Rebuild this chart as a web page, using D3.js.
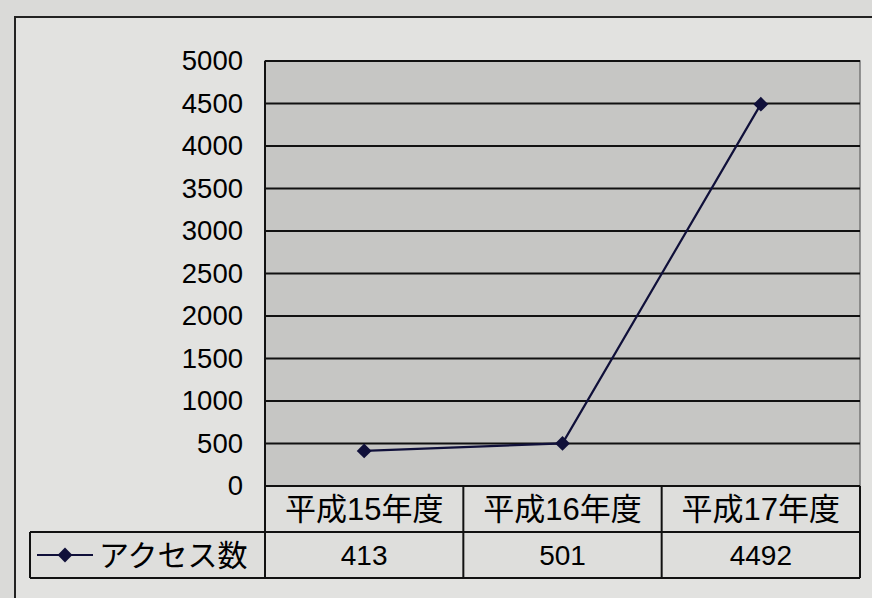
<!DOCTYPE html>
<html><head><meta charset="utf-8">
<script src="https://cdn.jsdelivr.net/npm/d3@7"></script>
<style>
html,body{margin:0;padding:0;background:#dadad8;}
svg{display:block;}
text{font-family:"Liberation Sans","Noto Sans CJK JP",sans-serif;fill:#000;}
</style></head>
<body>
<svg id="c" width="872" height="598"></svg>
<script>
const categories = ["平成15年度","平成16年度","平成17年度"];
const seriesName = "アクセス数";
const values = [413, 501, 4492];
const yTicks = [0,500,1000,1500,2000,2500,3000,3500,4000,4500,5000];

const W = 872, H = 598;
const plot = {left: 265, right: 860, top: 61, bottom: 486};
const rowH = 46;
const svg = d3.select("#c");

// chart area
svg.append("rect").attr("x",15).attr("y",17).attr("width",W).attr("height",H)
  .attr("fill","#e2e2e0").attr("stroke","#222").attr("stroke-width",2);

const x = d3.scaleBand().domain(categories).range([plot.left, plot.right]);
const y = d3.scaleLinear().domain([0,5000]).range([plot.bottom, plot.top]);

// plot area
svg.append("rect").attr("x",plot.left).attr("y",plot.top)
  .attr("width",plot.right-plot.left).attr("height",plot.bottom-plot.top)
  .attr("fill","#c6c6c4").attr("stroke","#777").attr("stroke-width",1.5);

// gridlines
svg.append("g").selectAll("line").data(yTicks).join("line")
  .attr("x1",plot.left).attr("x2",plot.right)
  .attr("y1",d=>y(d)).attr("y2",d=>y(d))
  .attr("stroke","#111").attr("stroke-width",d=>d===0?1.5:2);
svg.append("line").attr("x1",plot.left).attr("x2",plot.left)
  .attr("y1",plot.top).attr("y2",plot.bottom).attr("stroke","#111").attr("stroke-width",2);

// y axis labels
const yAxis = d3.axisLeft(y).tickValues(yTicks).tickSize(0).tickPadding(22).tickFormat(d3.format("d"));
const ga = svg.append("g").attr("transform",`translate(${plot.left},0)`).call(yAxis);
ga.select(".domain").remove();
ga.selectAll("text").attr("font-size",27.5).attr("font-family",'"Liberation Sans",sans-serif').attr("fill","#000");

// data table
const t1 = plot.bottom, t2 = plot.bottom + rowH, t3 = plot.bottom + 2*rowH;
const tbl = svg.append("g");
tbl.append("rect").attr("x",plot.left).attr("y",t1).attr("width",plot.right-plot.left).attr("height",2*rowH)
  .attr("fill","#dededc");
tbl.append("rect").attr("x",30).attr("y",t2).attr("width",plot.left-30).attr("height",rowH)
  .attr("fill","#dededc");
const bounds = categories.map(c=>x(c)).concat([plot.right]);
tbl.selectAll("line.v").data(bounds).join("line").attr("class","v")
  .attr("x1",d=>d).attr("x2",d=>d).attr("y1",t1).attr("y2",t3)
  .attr("stroke","#111").attr("stroke-width",2);
tbl.append("line").attr("x1",30).attr("x2",30).attr("y1",t2).attr("y2",t3).attr("stroke","#111").attr("stroke-width",2);
[[plot.left,t1],[30,t2],[30,t3]].forEach(([x0,yy])=>{
  tbl.append("line").attr("x1",x0).attr("x2",plot.right).attr("y1",yy).attr("y2",yy)
    .attr("stroke","#111").attr("stroke-width",2);
});
tbl.selectAll("text.cat").data(categories).join("text").attr("class","cat")
  .attr("x",d=>x(d)+x.bandwidth()/2).attr("y",(t1+t2)/2).attr("dy","0.36em")
  .attr("text-anchor","middle").attr("font-size",31).text(d=>d);
tbl.selectAll("text.val").data(values).join("text").attr("class","val")
  .attr("x",(d,i)=>x(categories[i])+x.bandwidth()/2).attr("y",(t2+t3)/2).attr("dy","0.36em")
  .attr("text-anchor","middle").attr("font-size",28).text(d=>d);

// legend key in table
const ly = (t2+t3)/2;
const lineColor = "#10103a";
const diamond = d3.symbol(d3.symbolSquare,110)();
tbl.append("line").attr("x1",37).attr("x2",93).attr("y1",ly).attr("y2",ly).attr("stroke",lineColor).attr("stroke-width",2);
tbl.append("path").attr("d",diamond).attr("transform",`translate(65,${ly}) rotate(45)`).attr("fill",lineColor);
tbl.append("text").attr("x",99).attr("y",ly).attr("dy","0.36em").attr("font-size",30).text(seriesName);

// series line
const pts = values.map((v,i)=>[x(categories[i])+x.bandwidth()/2, y(v)]);
svg.append("path").attr("d",d3.line()(pts)).attr("fill","none").attr("stroke",lineColor).attr("stroke-width",2.2);
svg.selectAll("path.mk").data(pts).join("path").attr("class","mk")
  .attr("d",diamond)
  .attr("transform",d=>`translate(${d[0]},${d[1]}) rotate(45)`).attr("fill",lineColor);
</script>
</body></html>
